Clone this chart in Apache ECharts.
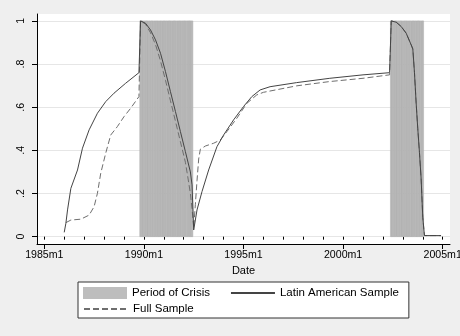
<!DOCTYPE html>
<html>
<head>
<meta charset="utf-8">
<script src="https://cdn.jsdelivr.net/npm/echarts@6/dist/echarts.min.js"></script>
<style>
  html, body { margin: 0; padding: 0; background: #efefef; }
  #chart { width: 460px; height: 336px; }
</style>
</head>
<body>
<div id="chart"></div>
<script>
// Months are counted from 1985m1 (= 0).
const xTickMonths = [0, 60, 120, 180, 240];
const xTickLabels = ['1985m1', '1990m1', '1995m1', '2000m1', '2005m1'];
const yTickValues = [0, 0.2, 0.4, 0.6, 0.8, 1];
const yTickLabels = ['0', '.2', '.4', '.6', '.8', '1'];

// Crisis spells: first and last month of each episode.
const crisisStart = [58, 209];
const crisisEnd = [89, 228];

// Latin American sample
const latinMonths = [12, 13, 14, 16, 20, 23, 27, 32, 37, 42, 49, 57, 58, 61, 64, 67, 70, 73, 76, 79,
  82, 85, 88, 89, 90, 92, 95, 99, 104, 108, 114, 120, 125, 130, 136, 152, 172, 192, 208, 209,
  212, 215, 218, 221, 222, 223, 224, 225, 226, 227, 228, 229, 239];
const latinShare = [0.02, 0.062, 0.124, 0.224, 0.309, 0.41, 0.495, 0.572, 0.626, 0.665, 0.711, 0.76, 1.0, 0.989, 0.958, 0.912, 0.85, 0.765, 0.672, 0.58,
  0.487, 0.394, 0.30, 0.24, 0.031, 0.124, 0.209, 0.309, 0.417, 0.471, 0.541, 0.603, 0.649, 0.68, 0.695, 0.714, 0.734, 0.75, 0.76, 1.0,
  0.994, 0.974, 0.943, 0.889, 0.87, 0.76, 0.62, 0.5, 0.39, 0.27, 0.09, 0.005, 0.005];

// Full sample
const fullMonths = [13, 16, 22, 27, 30, 32, 34, 37, 40, 44, 48, 52, 57, 58, 61, 64, 67, 70, 73, 76,
  79, 82, 85, 87, 88, 89, 90, 91, 92, 93, 94, 97, 102, 106, 110, 116, 122, 128, 132, 152,
  172, 192, 208, 209, 212, 215, 218, 221, 222, 223, 224, 225, 226, 227, 228, 229, 239];
const fullShare = [0.065, 0.077, 0.081, 0.10, 0.139, 0.201, 0.294, 0.387, 0.471, 0.51, 0.556, 0.595, 0.649, 1.0, 0.985, 0.945, 0.89, 0.815, 0.725, 0.63,
  0.535, 0.44, 0.345, 0.25, 0.2, 0.13, 0.04, 0.15, 0.26, 0.36, 0.405, 0.42, 0.433, 0.448, 0.487, 0.549, 0.618, 0.657, 0.669, 0.699,
  0.719, 0.734, 0.75, 1.0, 0.994, 0.974, 0.943, 0.889, 0.87, 0.76, 0.62, 0.5, 0.39, 0.27, 0.09, 0.005, 0.005];

// One bar per crisis month.
const crisisData = [];
crisisStart.forEach((s, i) => {
  for (let m = s; m <= crisisEnd[i]; m++) crisisData.push([m, 1]);
});
const yearMonths = [];
for (let m = 0; m <= 240; m += 12) yearMonths.push(m);

const zip = (xs, ys) => xs.map((x, i) => [x, ys[i]]);
const FONT = '"Liberation Sans", Arial, Helvetica, sans-serif';

const chart = echarts.init(document.getElementById('chart'), null, { renderer: 'canvas' });
chart.setOption({
  animation: false,
  backgroundColor: '#efefef',
  textStyle: { fontFamily: FONT },
  grid: {
    left: 37, right: 10, top: 14, bottom: 92,
    outerBoundsMode: 'none', containLabel: false,
    show: true, backgroundColor: '#ffffff', borderWidth: 0
  },
  xAxis: [{
    type: 'value', position: 'bottom',
    min: -4.4, max: 244.4,
    name: 'Date', nameLocation: 'middle', nameGap: 19,
    nameTextStyle: { fontSize: 11, color: '#000', fontFamily: FONT },
    axisLine: { onZero: false, lineStyle: { color: '#000', width: 1 } },
    axisTick: { customValues: xTickMonths, length: 5, lineStyle: { color: '#000' } },
    axisLabel: {
      customValues: xTickMonths, margin: 6, fontSize: 10.6, color: '#000', fontFamily: FONT,
      hideOverlap: false,
      formatter: v => xTickLabels[xTickMonths.indexOf(v)]
    },
    splitLine: { show: false }
  }, {
    type: 'value', position: 'bottom',
    min: -4.4, max: 244.4,
    axisLine: { show: false },
    axisTick: { customValues: yearMonths, length: 3, lineStyle: { color: '#000' } },
    axisLabel: { show: false },
    splitLine: { show: false }
  }],
  yAxis: {
    type: 'value',
    min: -0.034, max: 1.032,
    axisLine: { show: true, onZero: false, lineStyle: { color: '#000', width: 1 } },
    axisTick: { show: true, customValues: yTickValues, length: 5, lineStyle: { color: '#000' } },
    axisLabel: {
      customValues: yTickValues, rotate: 90, margin: 10, fontSize: 10.6, color: '#000', fontFamily: FONT,
      formatter: v => yTickLabels[yTickValues.indexOf(v)]
    },
    splitLine: { show: true, lineStyle: { color: '#e6e6e6', width: 1 } }
  },
  legend: [{
    data: [
      { name: 'Period of Crisis', icon: 'rect', itemStyle: { color: '#bdbdbd' } },
      { name: 'Latin American Sample', itemStyle: { opacity: 0 } }
    ],
    selectedMode: false,
    orient: 'horizontal',
    left: 78, top: 282,
    padding: [5, 10, 19, 5],
    itemWidth: 44, itemHeight: 12, itemGap: 20,
    backgroundColor: '#ffffff', borderColor: '#333', borderWidth: 1,
    textStyle: { fontSize: 11.5, color: '#000', fontFamily: FONT }
  }, {
    data: [{ name: 'Full Sample', itemStyle: { opacity: 0 } }],
    selectedMode: false,
    left: 78, top: 303,
    padding: [0, 0, 0, 5],
    itemWidth: 44, itemHeight: 12,
    textStyle: { fontSize: 11.5, color: '#000', fontFamily: FONT }
  }],
  series: [{
    name: 'Period of Crisis',
    type: 'custom',
    z: 1,
    data: crisisData,
    encode: { x: 0, y: 1 },
    itemStyle: { color: '#b9b9b9' },
    renderItem: (params, api) => {
      const m = api.value(0);
      const p0 = api.coord([m - 0.5, api.value(1)]);
      const p1 = api.coord([m + 0.5, 0]);
      return {
        type: 'rect',
        shape: { x: p0[0], y: p0[1], width: p1[0] - p0[0], height: p1[1] - p0[1] },
        style: { fill: '#b9b9b9', stroke: '#acacac', lineWidth: 0.5 }
      };
    }
  }, {
    name: 'Full Sample',
    type: 'line',
    z: 3,
    data: zip(fullMonths, fullShare),
    symbol: 'none',
    lineStyle: { color: '#6e6e6e', width: 1, type: [6, 3] },
    itemStyle: { color: '#6e6e6e' }
  }, {
    name: 'Latin American Sample',
    type: 'line',
    z: 4,
    data: zip(latinMonths, latinShare),
    symbol: 'none',
    lineStyle: { color: '#444', width: 1 },
    itemStyle: { color: '#444' }
  }]
});
</script>
</body>
</html>
